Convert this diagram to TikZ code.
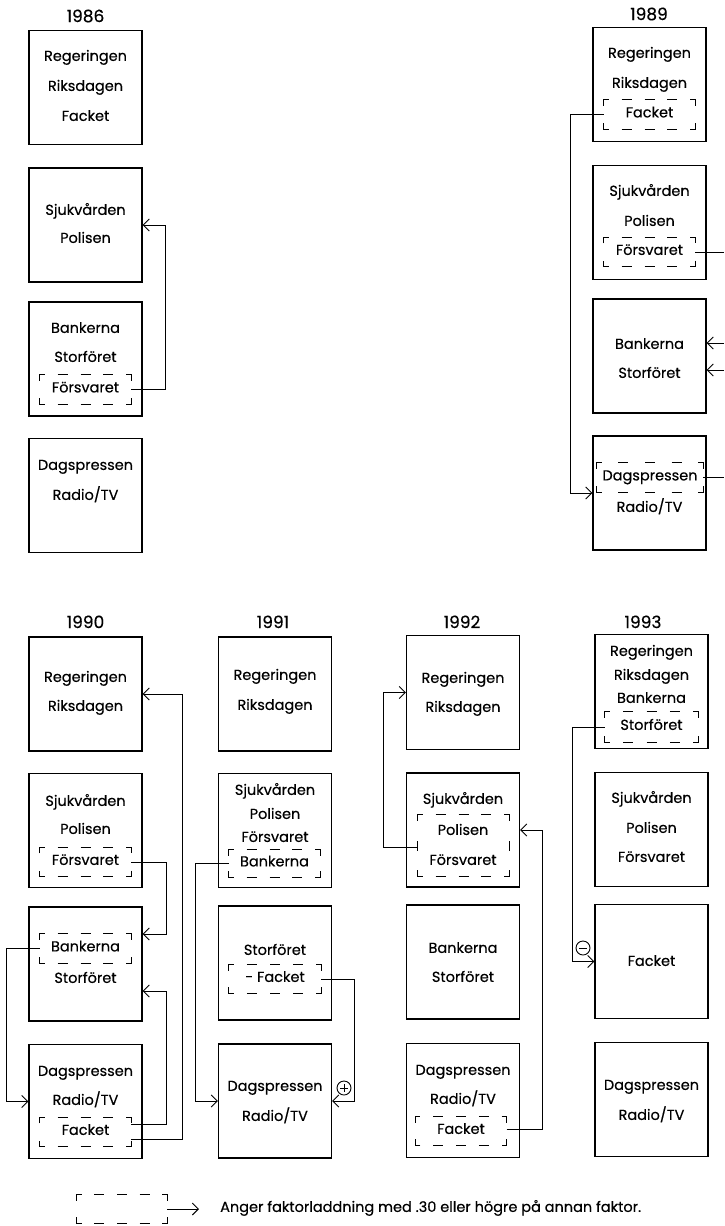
\documentclass[tikz,border=0pt]{standalone}
\usepackage{fontspec}
\setmainfont{Poppins}[FakeBold=0.4]
\usetikzlibrary{arrows.meta,calc}

% dashed frame with L-shaped corners and three dashes on top and bottom
\newcommand\dashframe[1]{%
  \draw[dline] ([yshift=-6pt]#1.north west) |- ([xshift=5pt]#1.north west);
  \draw[dline] ([xshift=-5pt]#1.north east) -| ([yshift=-6pt]#1.north east);
  \draw[dline] ([yshift=6pt]#1.south east) |- ([xshift=-5pt]#1.south east);
  \draw[dline] ([xshift=5pt]#1.south west) -| ([yshift=6pt]#1.south west);
  \foreach \k in {1,2,3}{%
    \draw[dline] ($(#1.north west)!\k/4!(#1.north east)+(-5pt,0)$) -- ++(10pt,0);
    \draw[dline] ($(#1.south west)!\k/4!(#1.south east)+(-5pt,0)$) -- ++(10pt,0);
  }%
}

\begin{document}
\begin{tikzpicture}[x=1pt,y=-1pt,
  box/.style={draw,line width=1.3pt,minimum width=113pt,minimum height=114pt,inner sep=0pt},
  lbl/.style={inner sep=0pt,font=\fontsize{14.5}{17}\selectfont,text height=0.58em,text depth=0pt},
  yr/.style={inner sep=0pt,font=\fontsize{17}{20}\selectfont,text height=0.62em,text depth=0pt},
  dashnode/.style={lbl,minimum width=91pt,minimum height=29pt},
  dline/.style={line width=1.2pt},
  link/.style={line width=0.9pt},
  conn/.style={link,-{Straight Barb[length=6pt,width=12pt]}},
  sign/.style={circle,draw,line width=0.9pt,minimum size=14pt,inner sep=0pt}
]
\useasboundingbox (0,0) rectangle (724,1226);

% ---------------- 1986 ----------------
\node[yr] (y86) at (85.5,19) {1986};
\node[box] (c86a) at (85.5,87.5) {};
\node[lbl] (t86a1) at (85.5,58) {Regeringen};
\node[lbl] (t86a2) at (85.5,88) {Riksdagen};
\node[lbl] (t86a3) at (85.5,118) {Facket};
\node[box] (c86b) at (85.5,225) {};
\node[lbl] (t86b1) at (85.5,212) {Sjukvården};
\node[lbl] (t86b2) at (85.5,240) {Polisen};
\node[box] (c86c) at (85.5,359) {};
\node[lbl] (t86c1) at (85.5,330) {Bankerna};
\node[lbl] (t86c2) at (85.5,359) {Storföret};
\node[dashnode] (d86) at (85.5,389.5) {Försvaret};
\dashframe{d86}
\node[box] (c86d) at (85.5,495.5) {};
\node[lbl] (t86d1) at (85.5,467) {Dagspressen};
\node[lbl] (t86d2) at (85.5,497) {Radio/TV};
\draw[conn] (d86.east) -- ++(34,0) |- (c86b.east);

% ---------------- 1989 ----------------
\node[yr] (y89) at (649,17) {1989};
\node[box] (c89a) at (649.5,84.5) {};
\node[lbl] (t89a1) at (649.5,55) {Regeringen};
\node[lbl] (t89a2) at (649.5,85) {Riksdagen};
\node[dashnode] (d89a) at (649.5,114.5) {Facket};
\dashframe{d89a}
\node[box] (c89b) at (649.5,222.5) {};
\node[lbl] (t89b1) at (649.5,193) {Sjukvården};
\node[lbl] (t89b2) at (649.5,223) {Polisen};
\node[dashnode] (d89b) at (649.5,252) {Försvaret};
\dashframe{d89b}
\node[box] (c89c) at (649.5,356) {};
\node[lbl] (t89c1) at (649.5,346) {Bankerna};
\node[lbl] (t89c2) at (649.5,375) {Storföret};
\node[box] (c89d) at (649.5,493) {};
\node[dashnode,minimum width=106pt] (d89d) at (650,477.5) {Dagspressen};
\dashframe{d89d}
\node[lbl] (t89d2) at (649.5,509) {Radio/TV};
\coordinate (r89b) at (724,252);
\coordinate (r89c) at (724,343);
\coordinate (r89d) at (724,370);
\coordinate (r89e) at (724,477.5);
\draw[conn] (d89a.west) -- ++(-33,0) |- (c89d.west);
\draw[link] (d89b.east) -- (r89b);
\draw[conn] (r89c) -- (r89c -| c89c.east);
\draw[conn] (r89d) -- (r89d -| c89c.east);
\draw[link] (d89d.east) -- (r89e);

% ---------------- 1990 ----------------
\node[yr] (y90) at (85.5,625) {1990};
\node[box] (c90a) at (85.5,694) {};
\node[lbl] (t90a1) at (85.5,679) {Regeringen};
\node[lbl] (t90a2) at (85.5,708) {Riksdagen};
\node[box] (c90b) at (85.5,830.5) {};
\node[lbl] (t90b1) at (85.5,803) {Sjukvården};
\node[lbl] (t90b2) at (85.5,831) {Polisen};
\node[dashnode] (d90b) at (85.5,862) {Försvaret};
\dashframe{d90b}
\node[box] (c90c) at (85.5,964) {};
\node[dashnode] (d90c) at (85.5,948.5) {Bankerna};
\dashframe{d90c}
\node[lbl] (t90c2) at (85.5,980) {Storföret};
\node[box] (c90d) at (85.5,1101.5) {};
\node[lbl] (t90d1) at (85.5,1073) {Dagspressen};
\node[lbl] (t90d2) at (85.5,1102) {Radio/TV};
\node[dashnode] (d90d) at (85.5,1132) {Facket};
\dashframe{d90d}
\draw[conn] (d90b.east) -- ++(35,0) |- ([yshift=30pt]c90c.east);
\draw[conn] (d90c.west) -- ++(-33,0) |- (c90d.west);
\draw[conn] ([yshift=8pt]d90d.east) -- ++(35,0) |- ([yshift=-27pt]c90c.east);
\draw[conn] ([yshift=-7pt]d90d.east) -- ++(51,0) |- (c90a.east);

% ---------------- 1991 ----------------
\node[yr] (y91) at (273,625) {1991};
\node[box] (c91a) at (275,694) {};
\node[lbl] (t91a1) at (275,677) {Regeringen};
\node[lbl] (t91a2) at (275,707) {Riksdagen};
\node[box] (c91b) at (275,830.5) {};
\node[lbl] (t91b1) at (275,792) {Sjukvården};
\node[lbl] (t91b2) at (275,816) {Polisen};
\node[lbl] (t91b3) at (275,839) {Försvaret};
\node[dashnode,minimum height=27pt] (d91b) at (274.5,863.5) {Bankerna};
\dashframe{d91b}
\node[box] (c91c) at (275,963) {};
\node[lbl] (t91c1) at (275,952) {Storföret};
\node[dashnode,minimum width=92pt,minimum height=28pt] (d91c) at (275,979) {- Facket};
\dashframe{d91c}
\node[box] (c91d) at (275,1101) {};
\node[lbl] (t91d1) at (275,1088) {Dagspressen};
\node[lbl] (t91d2) at (275,1118) {Radio/TV};
\draw[conn] (d91b.west) -- ++(-33,0) |- (c91d.west);
\draw[conn] (d91c.east) -- ++(33,0) |- (c91d.east);
\node[sign] (p91) at (344,1088) {};
\draw[link] ([xshift=-4pt]p91.center) -- ([xshift=4pt]p91.center);
\draw[link] ([yshift=-4pt]p91.center) -- ([yshift=4pt]p91.center);

% ---------------- 1992 ----------------
\node[yr] (y92) at (462,625) {1992};
\node[box] (c92a) at (463,692.5) {};
\node[lbl] (t92a1) at (463,680) {Regeringen};
\node[lbl] (t92a2) at (463,709) {Riksdagen};
\node[box] (c92b) at (463,830) {};
\node[lbl] (t92b1) at (463,801) {Sjukvården};
\node[dashnode,minimum height=61pt] (d92b) at (463.5,845.5) {};
\dashframe{d92b}
\draw[dline] ([yshift=-5pt]d92b.west) -- ([yshift=5pt]d92b.west);
\draw[dline] ([yshift=-5pt]d92b.east) -- ([yshift=5pt]d92b.east);
\node[lbl] (t92b2) at (463,832) {Polisen};
\node[lbl] (t92b3) at (463,862) {Försvaret};
\node[box] (c92c) at (463,962) {};
\node[lbl] (t92c1) at (463,950) {Bankerna};
\node[lbl] (t92c2) at (463,979) {Storföret};
\node[box] (c92d) at (463,1100.5) {};
\node[lbl] (t92d1) at (463,1072) {Dagspressen};
\node[lbl] (t92d2) at (463,1101) {Radio/TV};
\node[dashnode,minimum height=28pt] (d92d) at (461,1131) {Facket};
\dashframe{d92d}
\draw[conn] ([yshift=-1.5pt]d92b.west) -- ++(-34,0) |- (c92a.west);
\draw[conn] ([yshift=2pt]d92d.east) -- ++(36,0) |- (c92b.east);

% ---------------- 1993 ----------------
\node[yr] (y93) at (643,625) {1993};
\node[box] (c93a) at (651.5,691.5) {};
\node[lbl] (t93a1) at (651.5,653) {Regeringen};
\node[lbl] (t93a2) at (651.5,677) {Riksdagen};
\node[lbl] (t93a3) at (651.5,700) {Bankerna};
\node[dashnode,minimum width=93pt,minimum height=30pt] (d93a) at (651.5,727) {Storföret};
\dashframe{d93a}
\node[box] (c93b) at (651.5,829.5) {};
\node[lbl] (t93b1) at (651.5,800) {Sjukvården};
\node[lbl] (t93b2) at (651.5,830) {Polisen};
\node[lbl] (t93b3) at (651.5,859) {Försvaret};
\node[box] (c93c) at (651.5,961.5) {};
\node[lbl] (t93c1) at (651.5,963) {Facket};
\node[box] (c93d) at (651.5,1099.5) {};
\node[lbl] (t93d1) at (651.5,1087) {Dagspressen};
\node[lbl] (t93d2) at (651.5,1117) {Radio/TV};
\draw[conn] (d93a.west) -- ++(-32,0) |- (c93c.west);
\node[sign] (m93) at (583,948) {};
\draw[link] ([xshift=-4pt]m93.center) -- ([xshift=4pt]m93.center);

% ---------------- legend ----------------
\node[dashnode,minimum width=90pt,minimum height=28pt] (leg) at (122,1209) {};
\dashframe{leg}
\node[lbl,anchor=west] (legt) at (220,1209) {Anger faktorladdning med .30 eller högre på annan faktor.};
\draw[conn] (leg.east) -- ([xshift=-21pt]legt.west);
\end{tikzpicture}
\end{document}
